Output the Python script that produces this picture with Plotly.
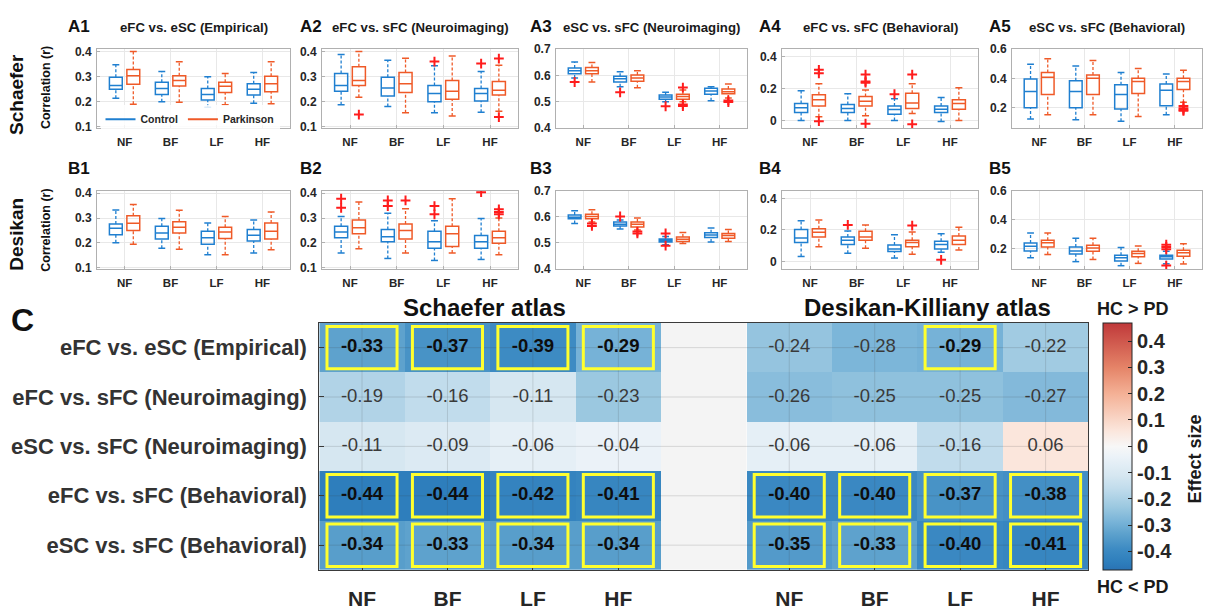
import plotly.graph_objects as go

# ---------------------------------------------------------------------------
# Box-plot summaries per frequency band: (lower whisker, Q1, median, Q3, upper whisker)
# ---------------------------------------------------------------------------
BANDS = ["NF", "BF", "LF", "HF"]

A1_HC = [(0.214, 0.250, 0.265, 0.298, 0.347), (0.200, 0.229, 0.253, 0.278, 0.321),
         (0.178, 0.207, 0.229, 0.253, 0.300), (0.194, 0.227, 0.250, 0.272, 0.317)]
A1_PD = [(0.190, 0.270, 0.304, 0.328, 0.400), (0.198, 0.263, 0.285, 0.304, 0.359),
         (0.188, 0.237, 0.262, 0.278, 0.313), (0.192, 0.240, 0.272, 0.302, 0.359)]
A2_HC = [(0.188, 0.242, 0.265, 0.313, 0.388), (0.181, 0.223, 0.255, 0.298, 0.365),
         (0.156, 0.200, 0.233, 0.265, 0.343), (0.158, 0.203, 0.233, 0.253, 0.321)]
A2_PD = [(0.218, 0.265, 0.285, 0.339, 0.400), (0.156, 0.237, 0.272, 0.317, 0.373),
         (0.143, 0.210, 0.242, 0.285, 0.382), (0.162, 0.227, 0.246, 0.281, 0.345)]
A3_HC = [(0.590, 0.606, 0.618, 0.628, 0.651), (0.557, 0.575, 0.587, 0.597, 0.614),
         (0.500, 0.510, 0.518, 0.526, 0.536), (0.504, 0.529, 0.541, 0.551, 0.557)]
A3_PD = [(0.575, 0.606, 0.618, 0.630, 0.649), (0.553, 0.578, 0.590, 0.602, 0.618),
         (0.500, 0.510, 0.520, 0.529, 0.545), (0.514, 0.530, 0.538, 0.548, 0.567)]
A4_HC = [(0.000, 0.050, 0.081, 0.107, 0.188), (0.000, 0.050, 0.075, 0.101, 0.168),
         (0.000, 0.040, 0.070, 0.091, 0.137), (-0.006, 0.050, 0.071, 0.091, 0.145)]
A4_PD = [(0.024, 0.091, 0.131, 0.162, 0.232), (0.030, 0.091, 0.121, 0.152, 0.192),
         (0.045, 0.075, 0.111, 0.172, 0.232), (0.000, 0.071, 0.107, 0.131, 0.206)]
A5_HC = [(0.122, 0.200, 0.311, 0.396, 0.496), (0.118, 0.200, 0.311, 0.384, 0.484),
         (0.107, 0.191, 0.289, 0.356, 0.440), (0.151, 0.213, 0.318, 0.362, 0.429)]
A5_PD = [(0.151, 0.289, 0.407, 0.440, 0.533), (0.151, 0.289, 0.400, 0.422, 0.522),
         (0.140, 0.296, 0.378, 0.400, 0.467), (0.236, 0.324, 0.378, 0.400, 0.456)]

B1_HC = [(0.200, 0.233, 0.259, 0.276, 0.332), (0.178, 0.215, 0.240, 0.267, 0.298),
         (0.152, 0.194, 0.220, 0.247, 0.280), (0.159, 0.207, 0.231, 0.254, 0.292)]
B1_PD = [(0.194, 0.250, 0.279, 0.309, 0.354), (0.174, 0.240, 0.263, 0.285, 0.331),
         (0.152, 0.217, 0.244, 0.263, 0.306), (0.172, 0.215, 0.247, 0.280, 0.324)]
B2_HC = [(0.159, 0.220, 0.244, 0.267, 0.306), (0.137, 0.204, 0.224, 0.254, 0.319),
         (0.129, 0.178, 0.204, 0.247, 0.289), (0.133, 0.178, 0.204, 0.230, 0.298)]
B2_PD = [(0.176, 0.237, 0.261, 0.292, 0.365), (0.159, 0.215, 0.250, 0.276, 0.337),
         (0.159, 0.185, 0.237, 0.267, 0.378), (0.152, 0.198, 0.220, 0.247, 0.300)]
B3_HC = [(0.574, 0.592, 0.598, 0.607, 0.623), (0.553, 0.565, 0.571, 0.580, 0.588),
         (0.493, 0.503, 0.509, 0.515, 0.524), (0.503, 0.520, 0.530, 0.539, 0.557)]
B3_PD = [(0.580, 0.592, 0.601, 0.610, 0.627), (0.549, 0.561, 0.571, 0.580, 0.595),
         (0.497, 0.505, 0.514, 0.522, 0.540), (0.505, 0.518, 0.528, 0.536, 0.551)]
B4_HC = [(0.031, 0.120, 0.149, 0.203, 0.259), (0.052, 0.108, 0.135, 0.155, 0.193),
         (0.021, 0.062, 0.079, 0.104, 0.170), (0.058, 0.079, 0.108, 0.128, 0.176)]
B4_PD = [(0.093, 0.155, 0.186, 0.207, 0.263), (0.083, 0.135, 0.155, 0.191, 0.232),
         (0.046, 0.093, 0.120, 0.135, 0.187), (0.072, 0.108, 0.135, 0.162, 0.218)]
B5_HC = [(0.137, 0.184, 0.216, 0.238, 0.308), (0.110, 0.162, 0.184, 0.211, 0.272),
         (0.082, 0.114, 0.137, 0.155, 0.207), (0.095, 0.128, 0.143, 0.155, 0.182)]
B5_PD = [(0.159, 0.211, 0.241, 0.257, 0.308), (0.125, 0.182, 0.205, 0.223, 0.272),
         (0.098, 0.143, 0.166, 0.182, 0.218), (0.094, 0.148, 0.171, 0.189, 0.234)]

# Outliers: (band, value)
A2_HC_OUT = [("LF", 0.360), ("HF", 0.352)]
A2_PD_OUT = [("NF", 0.149), ("HF", 0.372), ("HF", 0.139)]
A3_HC_OUT = [("NF", 0.575), ("BF", 0.536), ("LF", 0.483)]
A3_PD_OUT = [("LF", 0.554), ("LF", 0.490), ("LF", 0.484), ("HF", 0.505), ("HF", 0.499)]
A4_HC_OUT = [("LF", 0.166)]
A4_PD_OUT = [("NF", 0.319), ("NF", 0.297), ("NF", -0.004), ("BF", 0.289), ("BF", 0.246),
             ("BF", 0.238), ("BF", -0.020), ("LF", 0.289), ("LF", -0.024)]
A5_PD_OUT = [("HF", 0.211), ("HF", 0.196), ("HF", 0.185), ("HF", 0.178)]
B2_HC_OUT = [("NF", 0.378), ("NF", 0.341), ("BF", 0.371), ("BF", 0.348),
             ("LF", 0.348), ("LF", 0.315), ("HF", 0.404)]
B2_PD_OUT = [("BF", 0.371), ("HF", 0.335), ("HF", 0.324), ("HF", 0.315)]
B3_HC_OUT = [("BF", 0.601), ("LF", 0.536), ("LF", 0.489)]
B3_PD_OUT = [("NF", 0.574), ("NF", 0.565), ("BF", 0.543), ("BF", 0.536)]
B4_HC_OUT = [("BF", 0.232), ("HF", 0.010)]
B4_PD_OUT = [("LF", 0.228)]
B5_HC_OUT = [("HF", 0.227), ("HF", 0.211), ("HF", 0.195), ("HF", 0.083)]

PANEL_TITLES = ["eFC vs. eSC (Empirical)", "eFC vs. sFC (Neuroimaging)",
                "eSC vs. sFC (Neuroimaging)", "eFC vs. sFC (Behavioral)",
                "eSC vs. sFC (Behavioral)"]

# ---------------------------------------------------------------------------
# Effect sizes (HC vs PD) for the heat map
# ---------------------------------------------------------------------------
COMPARISONS = ["eFC vs. eSC (Empirical)", "eFC vs. sFC (Neuroimaging)",
               "eSC vs. sFC (Neuroimaging)", "eFC vs. sFC (Behavioral)",
               "eSC vs. sFC (Behavioral)"]
SCHAEFER_EFFECT = [[-0.33, -0.37, -0.39, -0.29],
                   [-0.19, -0.16, -0.11, -0.23],
                   [-0.11, -0.09, -0.06, -0.04],
                   [-0.44, -0.44, -0.42, -0.41],
                   [-0.34, -0.33, -0.34, -0.34]]
DESIKAN_EFFECT = [[-0.24, -0.28, -0.29, -0.22],
                  [-0.26, -0.25, -0.25, -0.27],
                  [-0.06, -0.06, -0.16, 0.06],
                  [-0.40, -0.40, -0.37, -0.38],
                  [-0.35, -0.33, -0.40, -0.41]]
SCHAEFER_SIG = [[1, 1, 1, 1], [0, 0, 0, 0], [0, 0, 0, 0], [1, 1, 1, 1], [1, 1, 1, 1]]
DESIKAN_SIG = [[0, 0, 1, 0], [0, 0, 0, 0], [0, 0, 0, 0], [1, 1, 1, 1], [1, 1, 1, 1]]

# ---------------------------------------------------------------------------
W, H = 1207, 613
FONT = "Liberation Sans, Arial, Helvetica, sans-serif"
BLUE = "#1f7fd0"
ORANGE = "#ef5a28"
OUT_RED = "#ff1c1c"
TXT = "#262626"


def px(x):
    return x / W


def py(y):
    return 1 - y / H


fig = go.Figure()

COLS = [(97, 290), (322, 518), (556, 747), (782, 978), (1012, 1202)]
ROWS = [(43, 124), (188, 268)]
YRANGES = [[0.095, 0.41], [0.095, 0.41], [0.4, 0.7], [-0.048, 0.45], [0.06, 0.6]]
YTICKS = [[0.1, 0.2, 0.3, 0.4], [0.1, 0.2, 0.3, 0.4], [0.4, 0.5, 0.6, 0.7],
          [0, 0.2, 0.4], [0.2, 0.4, 0.6]]

PANELS = [
    (A1_HC, A1_PD, [], []), (A2_HC, A2_PD, A2_HC_OUT, A2_PD_OUT),
    (A3_HC, A3_PD, A3_HC_OUT, A3_PD_OUT), (A4_HC, A4_PD, A4_HC_OUT, A4_PD_OUT),
    (A5_HC, A5_PD, [], A5_PD_OUT),
    (B1_HC, B1_PD, [], []), (B2_HC, B2_PD, B2_HC_OUT, B2_PD_OUT),
    (B3_HC, B3_PD, B3_HC_OUT, B3_PD_OUT), (B4_HC, B4_PD, B4_HC_OUT, B4_PD_OUT),
    (B5_HC, B5_PD, B5_HC_OUT, []),
]

BOX_W = 0.28
OFFSET = 0.19
CAP = 0.075


def add_group(ax, stats, outliers, color, offset):
    xa = "x" + ("" if ax == 1 else str(ax))
    ya = "y" + ("" if ax == 1 else str(ax))
    xs = [i + 1 + offset for i in range(len(stats))]
    lo = [s[0] for s in stats]
    q1 = [s[1] for s in stats]
    med = [s[2] for s in stats]
    q3 = [s[3] for s in stats]
    hi = [s[4] for s in stats]
    fig.add_trace(go.Box(
        x=xs, q1=q1, median=med, q3=q3, lowerfence=q1, upperfence=q3,
        width=BOX_W, line=dict(color=color, width=1.5), fillcolor="rgba(0,0,0,0)",
        boxpoints=False, showlegend=False, hoverinfo="skip", xaxis=xa, yaxis=ya))
    wx, wy, cx, cy = [], [], [], []
    for x, a, b, c, d in zip(xs, lo, q1, q3, hi):
        wx += [x, x, None, x, x, None]
        wy += [a, b, None, c, d, None]
        cx += [x - CAP, x + CAP, None, x - CAP, x + CAP, None]
        cy += [a, a, None, d, d, None]
    fig.add_trace(go.Scatter(x=wx, y=wy, mode="lines", showlegend=False, hoverinfo="skip",
                             line=dict(color=color, width=1.3, dash="3px,2px"),
                             xaxis=xa, yaxis=ya))
    fig.add_trace(go.Scatter(x=cx, y=cy, mode="lines", showlegend=False, hoverinfo="skip",
                             line=dict(color=color, width=1.5), xaxis=xa, yaxis=ya))
    if outliers:
        ox = [BANDS.index(b) + 1 + offset for b, _ in outliers]
        oy = [v for _, v in outliers]
        fig.add_trace(go.Scatter(x=ox, y=oy, mode="markers", showlegend=False, hoverinfo="skip",
                                 marker=dict(symbol="cross-thin", size=7,
                                             line=dict(color=OUT_RED, width=2)),
                                 xaxis=xa, yaxis=ya))


layout_axes = {}
for k, (hc, pdg, ohc, opd) in enumerate(PANELS):
    ax = k + 1
    r, c = divmod(k, 5)
    add_group(ax, hc, ohc, BLUE, -OFFSET)
    add_group(ax, pdg, opd, ORANGE, OFFSET)
    sfx = "" if ax == 1 else str(ax)
    x0, x1 = COLS[c]
    y0, y1 = ROWS[r]
    layout_axes["xaxis" + sfx] = dict(
        domain=[px(x0), px(x1)], anchor="y" + sfx, range=[0.4, 4.6],
        tickvals=[1, 2, 3, 4], ticktext=BANDS, showgrid=True, gridcolor="#e8e8e8",
        zeroline=False, showline=True, mirror=True, linecolor="#b0b0b0", linewidth=1,
        ticks="inside", ticklen=3, tickcolor="#b0b0b0",
        tickfont=dict(family=FONT, size=11.5, color=TXT, weight="bold"),
        ticklabelstandoff=3)
    ytv = YTICKS[c]
    layout_axes["yaxis" + sfx] = dict(
        domain=[py(y1), py(y0)], anchor="x" + sfx, range=YRANGES[c],
        tickvals=ytv, ticktext=[("0" if v == 0 else f"{v:.1f}") for v in ytv],
        showgrid=True, gridcolor="#e8e8e8", zeroline=False, showline=True, mirror=True,
        linecolor="#b0b0b0", linewidth=1, ticks="inside", ticklen=3, tickcolor="#b0b0b0",
        tickfont=dict(family=FONT, size=12, color=TXT, weight="bold"), ticklabelstandoff=2)

# Legend entries (line samples) shown inside panel A1
fig.add_trace(go.Scatter(x=[None], y=[None], mode="lines", name="<b>Control</b>",
                         line=dict(color=BLUE, width=2), xaxis="x", yaxis="y"))
fig.add_trace(go.Scatter(x=[None], y=[None], mode="lines", name="<b>Parkinson</b>",
                         line=dict(color=ORANGE, width=2), xaxis="x", yaxis="y"))

# ---------------------------------------------------------------------------
# Heat map of effect sizes (Schaefer | gap | Desikan)
# ---------------------------------------------------------------------------
HX = list(range(9))
z = [SCHAEFER_EFFECT[i] + [None] + DESIKAN_EFFECT[i] for i in range(5)]
sig = [SCHAEFER_SIG[i] + [0] + DESIKAN_SIG[i] for i in range(5)]

ZMAX = 0.47
cscale = [
    [0.000, "#2a72b3"], [0.032, "#2e7ebc"], [0.085, "#3d8bc3"], [0.149, "#5ea2cd"],
    [0.191, "#76b2d7"], [0.255, "#9bc8e0"], [0.330, "#c1dcec"], [0.383, "#d6e7f1"],
    [0.457, "#ebf2f8"], [0.500, "#f7f7f7"], [0.564, "#fbe6dc"], [0.713, "#f4b196"],
    [0.819, "#e58468"], [1.000, "#c0393a"],
]

fig.add_trace(go.Heatmap(
    z=z, x=HX, y=list(range(5)), zmin=-ZMAX, zmax=ZMAX, colorscale=cscale,
    xaxis="x11", yaxis="y11", hoverinfo="skip",
    colorbar=dict(
        x=px(1103), xanchor="left", xpad=0, y=py(449.5), yanchor="middle", ypad=0,
        len=(576 - 323) / H, lenmode="fraction", thickness=29, thicknessmode="pixels",
        outlinecolor=TXT, outlinewidth=1, ticks="inside", ticklen=4, tickcolor=TXT,
        tickvals=[0.4, 0.3, 0.2, 0.1, 0, -0.1, -0.2, -0.3, -0.4],
        ticktext=["0.4", "0.3", "0.2", "0.1", "0", "-0.1", "-0.2", "-0.3", "-0.4"],
        tickfont=dict(family=FONT, size=20, color=TXT, weight="bold"),
    ),
))

bx, by, bt, nx, ny, nt = [], [], [], [], [], []
for i in range(5):
    for j in range(9):
        v = z[i][j]
        if v is None:
            continue
        label = f"{v:.2f}"
        if sig[i][j]:
            bx.append(j); by.append(i); bt.append(f"<b>{label}</b>")
        else:
            nx.append(j); ny.append(i); nt.append(label)
fig.add_trace(go.Scatter(x=nx, y=ny, text=nt, mode="text", showlegend=False, hoverinfo="skip",
                         textfont=dict(family=FONT, size=18.5, color="#3a3a3a"),
                         xaxis="x11", yaxis="y11"))
fig.add_trace(go.Scatter(x=bx, y=by, text=bt, mode="text", showlegend=False, hoverinfo="skip",
                         textfont=dict(family=FONT, size=18.5, color="#0d0d0d"),
                         xaxis="x11", yaxis="y11"))

layout_axes["xaxis11"] = dict(
    domain=[px(319.3), px(1088.3)], anchor="y11", range=[-0.5, 8.5],
    tickvals=[0, 1, 2, 3, 5, 6, 7, 8], ticktext=BANDS + BANDS,
    showgrid=False, zeroline=False, showline=True, mirror=True, linecolor="#3a3a3a",
    ticks="inside", ticklen=5, tickcolor="#3a3a3a",
    tickfont=dict(family=FONT, size=21, color=TXT, weight="bold"), ticklabelstandoff=10)
layout_axes["yaxis11"] = dict(
    domain=[py(576), py(323.3)], anchor="x11", range=[4.5, -0.5],
    tickvals=list(range(5)), ticktext=COMPARISONS,
    showgrid=False, zeroline=False, showline=True, mirror=True, linecolor="#3a3a3a",
    ticks="inside", ticklen=5, tickcolor="#3a3a3a",
    tickfont=dict(family=FONT, size=22, color="#333333", weight="bold"),
    ticklabelstandoff=7)

shapes = [dict(type="rect", xref="x11", yref="y11", x0=3.5, x1=4.5, y0=-0.5, y1=4.5,
               fillcolor="#f4f4f4", line=dict(width=0), layer="below")]
for j in [0, 1, 2, 3, 5, 6, 7, 8]:
    shapes.append(dict(type="line", xref="x11", yref="y11", x0=j, x1=j, y0=-0.5, y1=4.5,
                       line=dict(color="rgba(60,60,60,0.16)", width=1), layer="above"))
for i in range(5):
    shapes.append(dict(type="line", xref="x11", yref="y11", x0=-0.5, x1=8.5, y0=i, y1=i,
                       line=dict(color="rgba(60,60,60,0.16)", width=1), layer="above"))
for i in range(5):
    for j in range(9):
        if sig[i][j]:
            shapes.append(dict(type="rect", xref="x11", yref="y11",
                               x0=j - 0.41, x1=j + 0.41, y0=i - 0.43, y1=i + 0.43,
                               line=dict(color="#ffff2e", width=3), layer="above"))

# ---------------------------------------------------------------------------
# Text annotations
# ---------------------------------------------------------------------------
ann = []


def note(text, x, y, size, color=TXT, angle=0, bold=True, xanchor="center"):
    ann.append(dict(text=f"<b>{text}</b>" if bold else text, x=px(x), y=py(y),
                    xref="paper", yref="paper", showarrow=False, xanchor=xanchor,
                    yanchor="middle", textangle=angle,
                    font=dict(family=FONT, size=size, color=color)))


label_x = [79, 311, 541, 770, 1000]
for c in range(5):
    note(f"A{c + 1}", label_x[c], 20, 17, "#111111")
    note(f"B{c + 1}", label_x[c], 165, 17, "#111111")
    note(PANEL_TITLES[c], (COLS[c][0] + COLS[c][1]) / 2, 21, 13.2, "#1a1a1a")

note("Schaefer", 17, 90, 19, "#111111", angle=-90)
note("Desikan", 17, 233, 19, "#111111", angle=-90)
note("Correlation (r)", 46, 83, 12.5, "#111111", angle=-90)
note("Correlation (r)", 46, 229, 12.5, "#111111", angle=-90)

note("C", 22, 320, 32, "#111111")
note("Schaefer atlas", 484, 308, 24, "#111111")
note("Desikan-Killiany atlas", 927, 308, 24, "#111111")
note("HC > PD", 1133, 309, 18, "#1a1a1a")
note("HC < PD", 1133, 594, 18, "#1a1a1a")
note("Effect size", 1195, 463, 18, "#1a1a1a", angle=-90)

fig.update_layout(
    width=W, height=H, autosize=False, margin=dict(l=0, r=0, t=0, b=0),
    paper_bgcolor="white", plot_bgcolor="white",
    font=dict(family=FONT, color=TXT),
    showlegend=True,
    legend=dict(orientation="h", x=px(190), y=py(115), xanchor="center", yanchor="middle",
                bgcolor="rgba(255,255,255,0.85)", borderwidth=0,
                font=dict(family=FONT, size=10.5, color=TXT),
                itemwidth=30, tracegroupgap=0, itemclick=False),
    annotations=ann, shapes=shapes,
    **layout_axes,
)

fig.write_html("out.html")
